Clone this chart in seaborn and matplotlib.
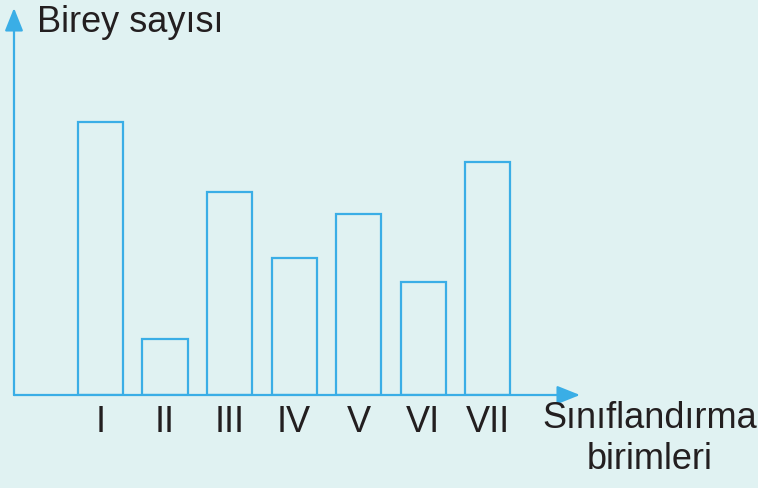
import matplotlib
matplotlib.use("Agg")
import matplotlib.pyplot as plt
import seaborn as sns
import pandas as pd

# heights (pixels above the baseline, no scale given)
categories = ["I", "II", "III", "IV", "V", "VI", "VII"]
values = [273, 56, 203, 137, 181, 113, 233]

y_label = "Birey sayısı"
x_label = "Sınıflandırma\nbirimleri"

bg = "#e0f2f2"
blue = "#3aaee6"
ink = "#231f20"

sns.set_theme(style="white")
plt.rcParams["font.family"] = ["Liberation Sans", "DejaVu Sans"]

fig = plt.figure(figsize=(7.58, 4.88), dpi=100, facecolor=bg)
ax = fig.add_axes([14 / 758, 93 / 488, 566 / 758, 387 / 488])
ax.set_facecolor(bg)

df = pd.DataFrame({"birim": categories, "birey": values})
sns.barplot(data=df, x="birim", y="birey", ax=ax, color=bg, saturation=1,
            edgecolor=blue, linewidth=1.6, width=0.70)

ax.set_xlim(-1.34, 7.43)
ax.set_ylim(0, 387)
for s in ax.spines.values():
    s.set_visible(False)
ax.set_yticks([])
ax.tick_params(axis="x", length=0, pad=7, labelsize=26, labelcolor=ink)
ax.set_xlabel("")
ax.set_ylabel("")

# axes drawn as arrows
arrow = dict(arrowstyle="-|>,head_length=1.0,head_width=0.4", color=blue,
             lw=1.6, mutation_scale=14, shrinkA=0, shrinkB=0)
ax.annotate("", xy=(0, 1), xytext=(0, 0), xycoords="axes fraction",
            arrowprops=arrow, annotation_clip=False)
ax.annotate("", xy=(1, 0), xytext=(0, 0), xycoords="axes fraction",
            arrowprops=arrow, annotation_clip=False)

fig.text(37 / 758, 1 - 22 / 488, y_label, fontsize=26, color=ink,
         ha="left", va="center")
fig.text(650 / 758, 1 - 439 / 488, x_label, fontsize=26, color=ink,
         ha="center", va="center", linespacing=1.2)

fig.savefig("out.png", dpi=100, facecolor=bg)
